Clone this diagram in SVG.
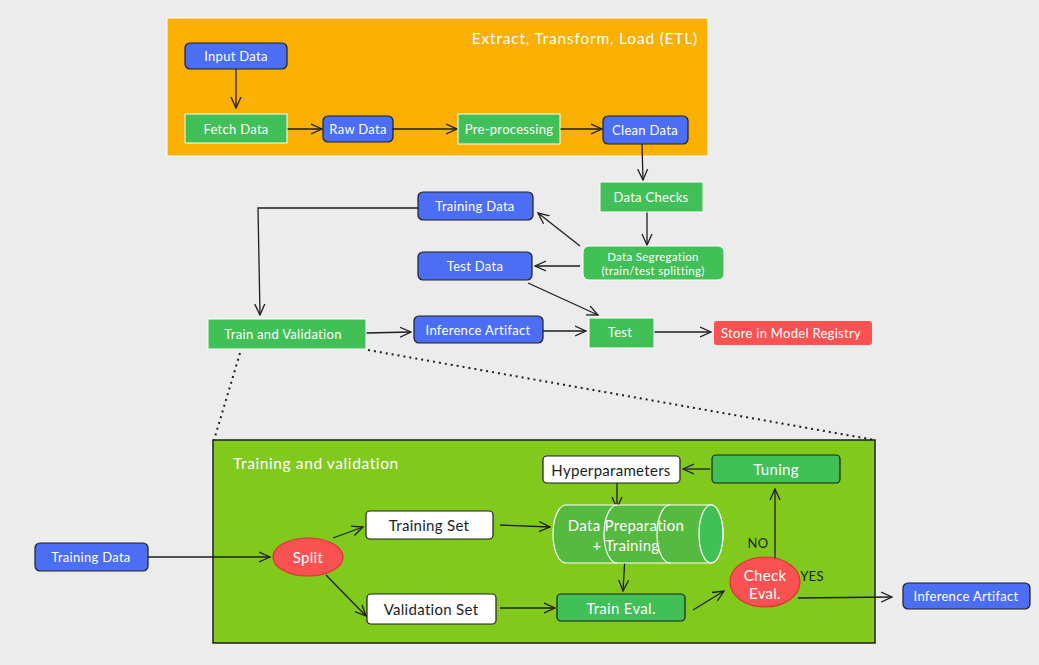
<svg xmlns="http://www.w3.org/2000/svg" width="1039" height="665" viewBox="0 0 1039 665">
<defs>
<marker id="ah" viewBox="0 0 12 12" refX="11" refY="6" markerWidth="12" markerHeight="12" markerUnits="userSpaceOnUse" orient="auto">
<path d="M0,1 L11,6 L0,11" fill="none" stroke="#1e1e1e" stroke-width="1.3"/>
</marker>
<pattern id="hatch" width="5" height="5" patternUnits="userSpaceOnUse" patternTransform="rotate(45)">
<rect width="5" height="5" fill="#5cb83a"/>
<line x1="0" y1="0" x2="0" y2="5" stroke="#40c057" stroke-width="2"/>
</pattern>
</defs>
<style>
text{font-family:"Lato","Liberation Sans",sans-serif;font-size:13px;letter-spacing:0.3px;fill:#ffffff;text-anchor:middle;dominant-baseline:central}
.dk{fill:#1e1e1e}
.big{font-size:15px}
.blue{fill:#4c6ef5;stroke:#1e1e1e;stroke-width:1.2}
.green{fill:#40c057;stroke:#ffffff;stroke-width:1}
.greend{fill:#40c057;stroke:#1e1e1e;stroke-width:1.2}
.white{fill:#ffffff;stroke:#1e1e1e;stroke-width:1.2}
.red{fill:#fa5252;stroke:#e03131;stroke-width:1.2}
.c{fill:none;stroke:#1e1e1e;stroke-width:1.3;marker-end:url(#ah)}
.dot{fill:none;stroke:#1e1e1e;stroke-width:2;stroke-dasharray:2 4}
</style>
<rect width="1039" height="665" fill="#ececec"/>

<g id="etl">
<rect x="167" y="18" width="541" height="138" fill="#f9b000" stroke="#ffffff" stroke-width="1"/>
<text x="698" y="38" style="font-size:15.5px;text-anchor:end;letter-spacing:0.8px">Extract, Transform, Load (ETL)</text>
</g>
<g id="trainval-box">
<rect x="213" y="440" width="662" height="203" fill="#82c91e" stroke="#1e1e1e" stroke-width="1.5"/>
<text x="233" y="463" style="font-size:15.5px;text-anchor:start;letter-spacing:0.6px">Training and validation</text>
</g>

<g id="connectors">
<path class="c" d="M236,69 L236,108"/>
<path class="c" d="M287,129 L322,129"/>
<path class="c" d="M393,129 L457,129"/>
<path class="c" d="M560,129 L602,129"/>
<path class="c" d="M642,144 L643,180"/>
<path class="c" d="M647,212 L647,245"/>
<path class="c" d="M580,246 L538,213"/>
<path class="c" d="M580,266 L535,266"/>
<path class="c" d="M528,283 L598,315"/>
<path class="c" d="M418,208 L258,208 L260,315"/>
<path class="c" d="M366,333 L411,332"/>
<path class="c" d="M543,331 L586,331"/>
<path class="c" d="M654,332 L711,332"/>
<path class="dot" d="M240,353 L214,440"/>
<path class="dot" d="M368,350 L875,440"/>
<path class="c" d="M148,557 L270,557"/>
<path class="c" d="M333,538 L363,527"/>
<path class="c" d="M326,575 L366,616"/>
<path class="c" d="M500,525 L550,527"/>
<path class="c" d="M500,608 L555,608"/>
<path class="c" d="M710,469 L683,469"/>
<path class="c" d="M617,483 L617,508"/>
<path class="c" d="M625,557 L623,591"/>
<path class="c" d="M693,610 L724,591"/>
<path class="c" d="M775,562 L775,489"/>
<path class="c" d="M798,598 L892,597"/>
</g>

<g id="input-data"><rect class="blue" x="185" y="43" width="102" height="26" rx="5"/><text x="236" y="56">Input Data</text></g>
<g id="fetch-data"><rect class="green" x="185" y="114" width="102" height="29"/><text x="236" y="129">Fetch Data</text></g>
<g id="raw-data"><rect class="blue" x="323" y="116" width="70" height="26" rx="5"/><text x="358" y="129">Raw Data</text></g>
<g id="pre-processing"><rect class="green" x="458" y="114" width="102" height="30"/><text x="509" y="129">Pre-processing</text></g>
<g id="clean-data"><rect class="blue" x="603" y="116" width="85" height="28" rx="5"/><text x="645" y="130">Clean Data</text></g>
<g id="data-checks"><rect class="green" x="600" y="182" width="103" height="30"/><text x="651" y="197">Data Checks</text></g>
<g id="data-segregation"><rect class="green" x="583" y="246" width="141" height="34" rx="6"/><text x="653" y="256" style="font-size:11.5px">Data Segregation</text><text x="653" y="270" style="font-size:11.5px">(train/test splitting)</text></g>
<g id="training-data"><rect class="blue" x="418" y="192" width="115" height="28" rx="5"/><text x="475" y="206">Training Data</text></g>
<g id="test-data"><rect class="blue" x="418" y="252" width="114" height="28" rx="5"/><text x="475" y="266">Test Data</text></g>
<g id="train-and-validation"><rect class="green" x="208" y="319" width="158" height="30"/><text x="283" y="334">Train and Validation</text></g>
<g id="inference-artifact"><rect class="blue" x="414" y="316" width="129" height="27" rx="5"/><text x="478" y="330">Inference Artifact</text></g>
<g id="test"><rect class="green" x="589" y="318" width="65" height="30"/><text x="620" y="332">Test</text></g>
<g id="store-registry"><rect x="714" y="321" width="158" height="24" rx="3" fill="#fa5252"/><text x="791" y="333">Store in Model Registry</text></g>

<g id="training-data-2"><rect class="blue" x="35" y="543" width="113" height="28" rx="5"/><text x="91" y="557">Training Data</text></g>
<g id="split"><ellipse class="red" cx="308" cy="557" rx="35" ry="19"/><text x="308" y="557" class="big">Split</text></g>
<g id="training-set"><rect class="white" x="366" y="511" width="127" height="28" rx="4"/><text x="429" y="525" class="dk big">Training Set</text></g>
<g id="validation-set"><rect class="white" x="367" y="594" width="129" height="30" rx="4"/><text x="431" y="609" class="dk big">Validation Set</text></g>
<g id="hyperparameters"><rect class="white" x="543" y="456" width="137" height="27" rx="4"/><text x="611" y="470" class="dk big">Hyperparameters</text></g>
<g id="tuning"><rect class="greend" x="712" y="455" width="128" height="28" rx="4"/><text x="776" y="469" class="big">Tuning</text></g>
<g id="data-prep-training">
<path d="M566,505 L711,505 A12,29 0 0 1 711,563 L566,563 A13,29 0 0 1 566,505 Z" fill="url(#hatch)" stroke="#ffffff" stroke-width="1.2"/>
<path d="M617,505 A13,29 0 0 0 617,563" fill="none" stroke="#ffffff" stroke-width="1.2"/>
<path d="M670,505 A13,29 0 0 0 670,563" fill="none" stroke="#ffffff" stroke-width="1.2"/>
<ellipse cx="711" cy="534" rx="12" ry="29" fill="#40c057" stroke="#ffffff" stroke-width="1.2"/>
<text x="626" y="525" class="big">Data Preparation</text>
<text x="626" y="545" class="big">+ Training</text>
</g>
<g id="train-eval"><rect class="greend" x="557" y="594" width="128" height="27" rx="4"/><text x="621" y="608" class="big">Train Eval.</text></g>
<g id="check-eval"><ellipse class="red" cx="765" cy="582" rx="35" ry="25"/><text x="765" y="575" class="big">Check</text><text x="765" y="593" class="big">Eval.</text></g>
<text x="758" y="543" class="dk" style="font-size:13px">NO</text>
<text x="812" y="576" class="dk" style="font-size:13px">YES</text>
<g id="inference-artifact-2"><rect class="blue" x="903" y="583" width="127" height="26" rx="5"/><text x="966" y="596">Inference Artifact</text></g>
</svg>
